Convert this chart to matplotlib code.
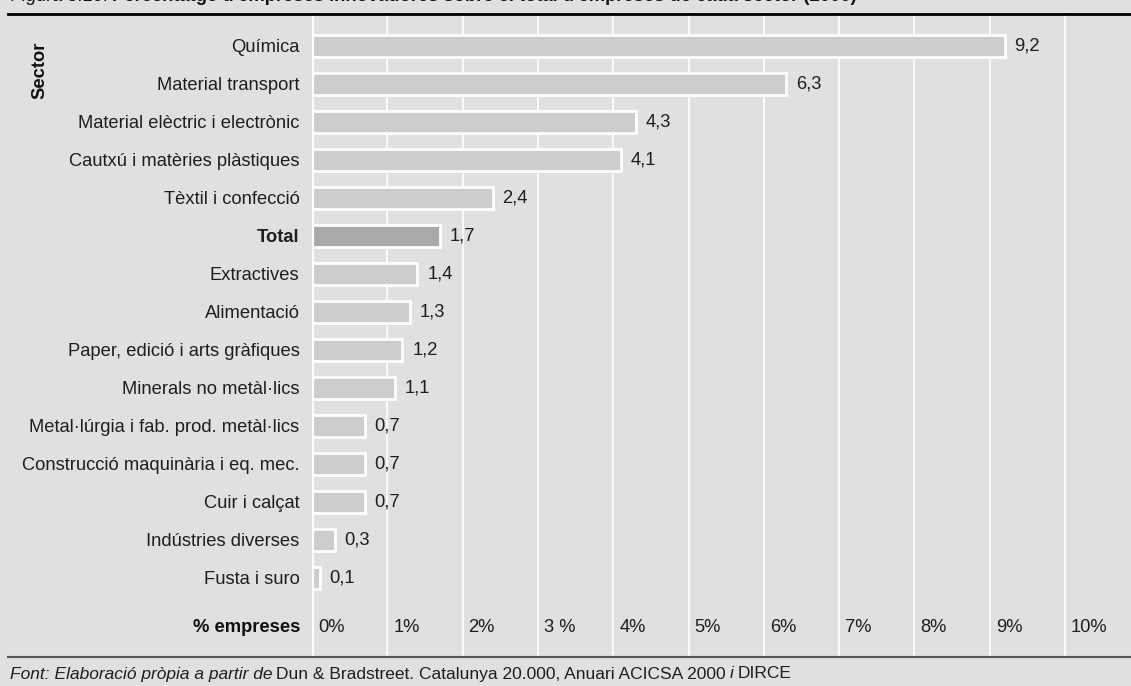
import numpy as np
import matplotlib
matplotlib.use('Agg')
import matplotlib.pyplot as plt

plt.rcParams['font.family'] = ['Liberation Sans', 'DejaVu Sans']

# --- data ---
sectors = ['Química', 'Material transport', 'Material elèctric i electrònic',
           'Cautxú i matèries plàstiques', 'Tèxtil i confecció', 'Total',
           'Extractives', 'Alimentació', 'Paper, edició i arts gràfiques',
           'Minerals no metàl·lics', 'Metal·lúrgia i fab. prod. metàl·lics',
           'Construcció maquinària i eq. mec.', 'Cuir i calçat',
           'Indústries diverses', 'Fusta i suro']
values = [9.2, 6.3, 4.3, 4.1, 2.4, 1.7, 1.4, 1.3, 1.2, 1.1, 0.7, 0.7, 0.7, 0.3, 0.1]
xticks = list(range(11))
xtick_labels = ['0%', '1%', '2%', '3 %', '4%', '5%', '6%', '7%', '8%', '9%', '10%']

bg = '#e0e0e0'
W, H = 1131, 686
fig = plt.figure(figsize=(W / 100, H / 100), dpi=100, facecolor=bg)

# plot area in pixels
x0, x1 = 312, 1131
y_top, y_bot = 14, 657
ax = fig.add_axes([x0 / W, 1 - y_bot / H, (x1 - x0) / W, (y_bot - y_top) / H])
ax.set_facecolor(bg)
for s in ax.spines.values():
    s.set_visible(False)

px_per_pct = 75.3
row = 38.0
ax.set_xlim(0, (x1 - x0) / px_per_pct)
ax.set_ylim((y_bot - 46) / row, -(46 - y_top) / row)

for xt in xticks[1:]:
    ax.axvline(xt, color='white', lw=1.2, zorder=1)
ax.axvline(0, color='white', lw=3, zorder=3)

ypos = np.arange(len(sectors))
colors = ['#a9a9a9' if s == 'Total' else '#cdcdcd' for s in sectors]
ax.barh(ypos, values, height=0.6, color=colors, edgecolor='white', linewidth=2, zorder=2)

fs = 13.2
tc = '#1e1e1e'
for y, v in zip(ypos, values):
    ax.text(v + 0.13, y, f'{v:.1f}'.replace('.', ','), va='center', ha='left',
            fontsize=fs, color=tc)

ax.set_yticks(ypos)
ax.set_yticklabels(sectors, fontsize=fs, color=tc)
ax.tick_params(axis='y', length=0, pad=9)
ax.tick_params(axis='x', bottom=False, labelbottom=False)
for lab in ax.get_yticklabels():
    if lab.get_text() == 'Total':
        lab.set_fontweight('bold')

label_row = (628 - 46) / row
for xt, lab in zip(xticks, xtick_labels):
    ax.text(xt + 0.08, label_row, lab, va='center', ha='left', fontsize=fs, color=tc)
fig.text(300 / W, 1 - 628 / H, '% empreses', ha='right', va='center',
         fontsize=fs, fontweight='bold', color='#111111')
fig.text(40 / W, 1 - 70 / H, 'Sector', rotation=90, ha='center', va='center',
         fontsize=fs, fontweight='bold', color='#111111')

# frame lines
fig.add_artist(plt.Line2D([8 / W, 1], [1 - 14 / H, 1 - 14 / H], color='black', lw=2))
fig.add_artist(plt.Line2D([8 / W, 1], [1 - 657 / H, 1 - 657 / H], color='#555555', lw=1.5))

# footnote and clipped title, mixed styles
fig.canvas.draw()
r = fig.canvas.get_renderer()


def run_text(parts, x, y, va='center', **kw):
    for txt, style, weight in parts:
        t = fig.text(x / W, 1 - y / H, txt, style=style, fontweight=weight,
                     va=va, ha='left', **kw)
        bb = t.get_window_extent(r)
        x = bb.x1 + 4


run_text([('Font: Elaboració pròpia a partir de', 'italic', 'normal'),
          ('Dun & Bradstreet. Catalunya 20.000, Anuari ACICSA 2000', 'normal', 'normal'),
          ('i', 'italic', 'normal'),
          ('DIRCE', 'normal', 'normal')], 10, 674, fontsize=12.5, color=tc)

# title sits above the top edge in the reference: only descenders show
run_text([('Figura 3.10.', 'normal', 'normal'),
          ("Percentatge d'empreses innovadores sobre el total d'empreses de cada sector (2000)",
           'normal', 'bold')], 10, 1, va='baseline', fontsize=fs, color='#111111')

fig.savefig('out.png', dpi=100, facecolor=bg)
